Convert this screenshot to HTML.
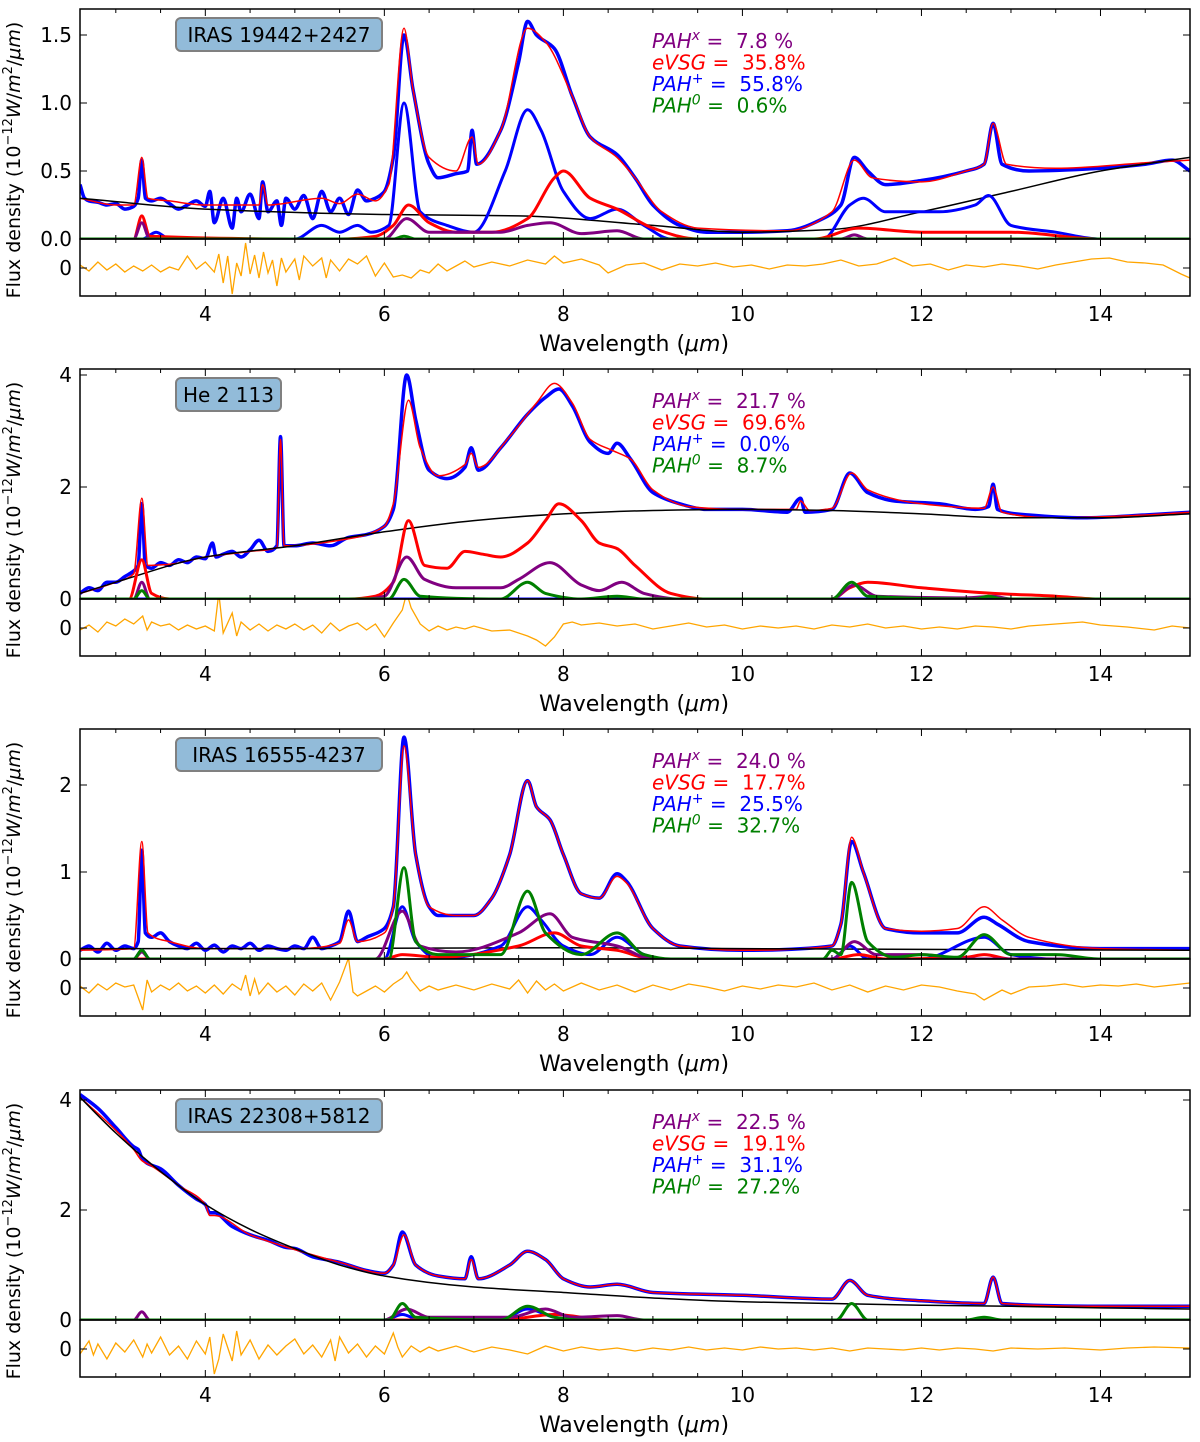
<!DOCTYPE html>
<html><head><meta charset="utf-8"><style>
body{margin:0;background:#fff;width:1200px;height:1437px;overflow:hidden}
svg{font-family:"DejaVu Sans","Liberation Sans",sans-serif}
</style></head><body>
<svg id="fig" width="1200" height="1437" viewBox="0 0 1200 1437" xmlns="http://www.w3.org/2000/svg"></svg>
<script>
// ---------- data (wavelength, value) ----------
const p1_obs=[[2.6,.40],[2.65,.3],[2.7,.28],[2.8,.27],[2.9,.25],[3.0,.26],[3.1,.22],[3.2,.24],[3.25,.3],[3.29,.58],[3.33,.3],[3.4,.28],[3.5,.3],[3.6,.26],[3.7,.22],[3.8,.25],[3.9,.28],[4.0,.24],[4.05,.35],[4.1,.12],[4.2,.3],[4.3,.08],[4.35,.3],[4.4,.2],[4.5,.33],[4.6,.15],[4.64,.42],[4.7,.2],[4.8,.28],[4.85,.1],[4.9,.3],[5.0,.22],[5.1,.32],[5.2,.15],[5.3,.35],[5.4,.2],[5.5,.3],[5.6,.18],[5.7,.36],[5.8,.28],[5.9,.3],[6.0,.35],[6.1,.6],[6.22,1.5],[6.32,1.1],[6.5,.55],[6.6,.45],[6.8,.48],[6.93,.5],[6.98,.8],[7.03,.55],[7.3,.8],[7.5,1.3],[7.6,1.6],[7.7,1.5],[7.9,1.4],[8.1,1.05],[8.3,.75],[8.6,.62],[8.8,.45],[9.0,.25],[9.3,.1],[9.6,.05],[10,.05],[10.5,.06],[10.9,.15],[11.1,.25],[11.25,.6],[11.4,.5],[11.6,.4],[12,.43],[12.5,.5],[12.7,.55],[12.8,.85],[12.9,.55],[13.2,.5],[14,.52],[14.5,.55],[14.8,.58],[15,.5]];
const p1_fit=[[2.6,.3],[3.0,.25],[3.2,.25],[3.29,.6],[3.36,.3],[3.6,.28],[4.0,.25],[4.6,.25],[4.64,.4],[4.7,.25],[5.3,.3],[5.5,.26],[5.7,.33],[5.9,.28],[6.05,.4],[6.22,1.55],[6.32,1.1],[6.5,.6],[6.8,.5],[6.98,.75],[7.05,.55],[7.3,.8],[7.6,1.55],[7.8,1.45],[8.1,1.05],[8.3,.75],[8.6,.6],[8.8,.45],[9.1,.2],[9.5,.08],[10.5,.06],[11.0,.2],[11.25,.58],[11.45,.45],[12,.42],[12.5,.5],[12.7,.55],[12.8,.85],[12.95,.55],[13.5,.52],[14.5,.56],[15,.58]];
const p1_cont=[[2.6,.3],[4,.22],[6,.18],[7.5,.17],[9,.1],[10,.05],[11,.07],[12,.2],[13,.35],[14,.5],[15,.6]];
const p1_evsg=[[2.6,0],[3.2,0],[3.29,.17],[3.38,.02],[5.5,0],[5.9,.02],[6.1,.1],[6.27,.25],[6.5,.12],[6.8,.05],[7.2,.05],[7.6,.15],[7.9,.45],[8.0,.5],[8.3,.3],[8.6,.22],[9,.08],[9.5,0],[10.8,0],[11.3,.08],[12,.05],[13,.05],[14,0],[15,0]];
const p1_pahp=[[2.6,0],[3.3,0],[3.45,.05],[3.6,0],[5.0,0],[5.3,.1],[5.5,.05],[5.7,.1],[5.85,.05],[6.05,.1],[6.22,1.0],[6.4,.2],[6.7,.1],[7.0,.05],[7.35,.5],[7.6,.95],[7.75,.8],[8.0,.35],[8.3,.15],[8.6,.22],[8.9,.1],[9.2,0],[10.9,0],[11.2,.25],[11.35,.3],[11.6,.2],[12.2,.2],[12.6,.25],[12.75,.32],[13.0,.1],[13.5,.05],[14,0],[15,0]];
const p1_pahx=[[2.6,0],[3.2,0],[3.29,.12],[3.38,0],[6.0,0],[6.25,.15],[6.5,.05],[7.3,.05],[7.6,.1],[7.85,.12],[8.2,.04],[8.6,.06],[8.9,0],[11.1,0],[11.25,.03],[11.4,0],[15,0]];
const p1_pah0=[[2.6,0],[6.1,0],[6.22,.02],[6.35,0],[15,0]];
const p1_res=[[2.6,.3],[2.7,-.3],[2.8,.6],[2.9,-.2],[3.0,.4],[3.1,-.4],[3.2,.2],[3.3,-.3],[3.4,.3],[3.5,-.4],[3.6,.1],[3.7,-.2],[3.8,1.2],[3.9,-.1],[4.0,.6],[4.1,-.4],[4.15,1.4],[4.2,-1.5],[4.25,1.2],[4.3,-2.6],[4.35,.5],[4.4,-.8],[4.45,2.5],[4.5,-.6],[4.55,1.3],[4.6,-1.0],[4.65,1.6],[4.7,-.5],[4.75,.8],[4.8,-1.8],[4.85,1.0],[4.9,-.4],[5.0,.9],[5.05,-1.2],[5.1,1.2],[5.2,.2],[5.3,1.0],[5.35,-1.0],[5.4,.8],[5.5,-.3],[5.6,.9],[5.7,.4],[5.8,1.2],[5.9,-.8],[6.0,.5],[6.1,-.9],[6.2,-.7],[6.3,-1.0],[6.4,-.2],[6.5,-.5],[6.6,.4],[6.7,-.3],[6.8,.2],[6.9,.7],[7.0,.1],[7.2,.6],[7.4,.2],[7.6,.8],[7.8,.4],[7.9,1.2],[8.0,.5],[8.2,.9],[8.4,.3],[8.5,-.5],[8.7,.3],[8.9,.5],[9.1,-.2],[9.3,.4],[9.5,.2],[9.7,.5],[9.9,.1],[10.1,.3],[10.3,-.1],[10.5,.3],[10.7,.2],[10.9,.4],[11.1,.8],[11.3,.2],[11.5,.4],[11.7,1.0],[11.9,.2],[12.1,.4],[12.3,-.2],[12.5,.3],[12.7,.1],[12.9,.4],[13.1,.2],[13.3,-.1],[13.5,.3],[13.7,.6],[13.9,.9],[14.1,1.0],[14.3,.6],[14.5,.5],[14.7,.3],[14.9,-.6],[15,-1.0]];
const p2_obs=[[2.6,.1],[2.7,.2],[2.8,.15],[2.9,.3],[3.0,.3],[3.1,.4],[3.2,.5],[3.25,.6],[3.29,1.7],[3.33,.6],[3.4,.55],[3.5,.65],[3.6,.6],[3.7,.7],[3.8,.65],[3.9,.75],[4.0,.72],[4.08,1.0],[4.12,.75],[4.2,.8],[4.3,.85],[4.4,.75],[4.5,.88],[4.6,1.05],[4.7,.85],[4.8,.95],[4.84,2.9],[4.88,.95],[5.0,.95],[5.2,1.0],[5.4,.95],[5.6,1.1],[5.8,1.15],[6.0,1.3],[6.1,1.6],[6.25,4.0],[6.35,3.2],[6.5,2.3],[6.7,2.15],[6.9,2.35],[6.97,2.7],[7.05,2.3],[7.3,2.7],[7.6,3.3],[7.8,3.6],[7.95,3.75],[8.1,3.45],[8.3,2.8],[8.5,2.6],[8.6,2.78],[8.75,2.5],[9.0,1.9],[9.3,1.7],[9.6,1.6],[10,1.6],[10.5,1.55],[10.65,1.8],[10.7,1.55],[11,1.6],[11.2,2.25],[11.4,1.9],[11.7,1.75],[12.2,1.7],[12.6,1.6],[12.75,1.65],[12.8,2.05],[12.85,1.6],[13.2,1.5],[13.8,1.45],[14.5,1.5],[15,1.55]];
const p2_fit=[[2.6,.1],[3.0,.3],[3.2,.45],[3.29,1.8],[3.36,.6],[3.6,.62],[4.0,.75],[4.5,.85],[4.8,.92],[4.84,2.85],[4.88,.95],[5.5,1.05],[6.0,1.3],[6.1,1.7],[6.27,3.55],[6.4,2.7],[6.6,2.2],[6.9,2.4],[6.97,2.6],[7.05,2.35],[7.4,2.9],[7.7,3.5],[7.9,3.85],[8.1,3.5],[8.3,2.85],[8.55,2.65],[8.75,2.5],[9.0,1.95],[9.4,1.65],[10,1.6],[10.6,1.6],[10.65,1.75],[10.75,1.58],[11,1.62],[11.22,2.25],[11.4,1.95],[12,1.7],[12.7,1.62],[12.8,2.0],[12.9,1.55],[13.5,1.45],[14.5,1.5],[15,1.55]];
const p2_cont=[[2.6,.1],[3,.3],[4,.75],[5,.95],[6,1.2],[7,1.4],[8,1.52],[9,1.58],[10,1.6],[11,1.58],[12,1.52],[13,1.45],[14,1.45],[15,1.52]];
const p2_evsg=[[2.6,0],[3.15,0],[3.29,.7],[3.4,.1],[3.6,0],[5.6,0],[5.9,.05],[6.1,.3],[6.27,1.4],[6.45,.6],[6.7,.55],[6.9,.85],[7.1,.8],[7.3,.75],[7.6,1.0],[7.8,1.4],[7.95,1.7],[8.2,1.4],[8.4,1.0],[8.6,.9],[8.8,.6],[9.2,.1],[9.6,0],[11.0,0],[11.2,.2],[11.4,.3],[12,.2],[12.8,.1],[13.5,.05],[14,0],[15,0]];
const p2_pahx=[[2.6,0],[3.2,0],[3.29,.3],[3.38,0],[5.8,0],[6.0,.05],[6.25,.75],[6.45,.35],[6.8,.2],[7.3,.2],[7.5,.35],[7.85,.65],[8.2,.25],[8.4,.15],[8.65,.3],[8.9,.1],[9.3,0],[11.0,0],[11.25,.25],[11.5,.05],[12.5,.02],[12.8,.05],[13.0,0],[15,0]];
const p2_pah0=[[2.6,0],[3.2,0],[3.29,.15],[3.38,0],[6.05,0],[6.22,.35],[6.4,.05],[7.3,0],[7.6,.3],[7.8,.1],[8.2,0],[8.6,.05],[8.9,0],[11.0,0],[11.22,.3],[11.4,.05],[12.6,0],[12.75,.05],[12.9,0],[15,0]];
const p2_pahp=[[2.6,0],[15,0]];
const p2_res=[[2.6,-.2],[2.7,.3],[2.8,-.4],[2.9,.6],[3.0,.2],[3.1,.9],[3.2,.4],[3.3,1.2],[3.35,-.2],[3.4,.6],[3.5,.2],[3.6,.4],[3.7,-.2],[3.8,.3],[3.9,-.1],[4.0,.2],[4.1,-.3],[4.15,3.5],[4.2,-.5],[4.3,1.5],[4.35,-.8],[4.4,.6],[4.5,-.2],[4.6,.4],[4.7,-.3],[4.8,.3],[4.9,-.1],[5.0,.4],[5.1,-.2],[5.2,.3],[5.3,-.5],[5.4,.5],[5.5,-.3],[5.6,.2],[5.7,.5],[5.8,-.2],[5.9,.4],[6.0,-.9],[6.1,.5],[6.2,1.8],[6.25,3.5],[6.3,2.0],[6.4,.4],[6.5,-.3],[6.6,.2],[6.7,-.2],[6.8,.1],[6.9,-.1],[7.0,.2],[7.2,-.3],[7.4,-.2],[7.6,-.8],[7.7,-1.2],[7.8,-1.8],[7.9,-.9],[8.0,.4],[8.1,.6],[8.2,.3],[8.4,.5],[8.6,.2],[8.8,.4],[9.0,-.1],[9.2,.2],[9.4,.5],[9.6,.1],[9.8,.3],[10.0,-.1],[10.2,.2],[10.4,0],[10.6,.2],[10.8,-.1],[11.0,.3],[11.2,.1],[11.4,.4],[11.6,0],[11.8,.2],[12.0,-.1],[12.2,.1],[12.4,-.1],[12.6,.2],[12.8,.1],[13.0,-.1],[13.2,.2],[13.5,.4],[13.8,.6],[14.0,.3],[14.3,.1],[14.6,-.2],[14.8,.2],[15,0]];
const p3_obs=[[2.6,.1],[2.7,.15],[2.8,.08],[2.9,.18],[3.0,.1],[3.1,.15],[3.2,.12],[3.25,.2],[3.29,1.25],[3.33,.3],[3.4,.25],[3.5,.3],[3.6,.2],[3.7,.15],[3.8,.12],[3.9,.18],[4.0,.1],[4.1,.16],[4.2,.08],[4.3,.15],[4.4,.12],[4.5,.18],[4.6,.1],[4.7,.15],[4.8,.12],[4.9,.1],[5.0,.15],[5.1,.12],[5.2,.25],[5.3,.12],[5.4,.15],[5.5,.2],[5.6,.55],[5.7,.2],[5.8,.25],[6.0,.35],[6.1,.6],[6.22,2.55],[6.35,1.2],[6.5,.6],[6.6,.5],[6.8,.5],[7.0,.5],[7.2,.7],[7.4,1.2],[7.6,2.05],[7.7,1.75],[7.85,1.6],[8.0,1.2],[8.2,.75],[8.4,.7],[8.6,.98],[8.7,.9],[9.0,.35],[9.3,.15],[10,.1],[11,.15],[11.1,.4],[11.22,1.35],[11.35,1.0],[11.6,.35],[12,.3],[12.4,.3],[12.7,.48],[12.85,.4],[13.2,.2],[14,.12],[15,.12]];
const p3_fit=[[2.6,.1],[3.2,.12],[3.29,1.35],[3.36,.3],[3.6,.2],[4.0,.12],[5.0,.12],[5.5,.18],[5.6,.45],[5.7,.2],[6.0,.3],[6.1,.6],[6.22,2.45],[6.35,1.2],[6.5,.6],[6.8,.5],[7.0,.5],[7.2,.7],[7.4,1.2],[7.6,2.05],[7.7,1.75],[7.85,1.6],[8.0,1.2],[8.2,.75],[8.4,.7],[8.6,.95],[8.7,.88],[9.0,.35],[9.3,.15],[10,.1],[11,.15],[11.1,.4],[11.22,1.4],[11.35,1.0],[11.6,.35],[12,.32],[12.4,.35],[12.7,.6],[12.9,.45],[13.2,.25],[14,.12],[15,.1]];
const p3_cont=[[2.6,.12],[5,.12],[8,.13],[10,.12],[12,.11],[15,.1]];
const p3_evsg=[[2.6,0],[6.0,0],[6.2,.05],[6.6,.02],[7.5,.15],[7.9,.3],[8.2,.15],[8.6,.1],[9.0,0],[11.0,0],[11.3,.05],[11.6,0],[12.5,.02],[12.7,.05],[13.0,0],[15,0]];
const p3_pahp=[[2.6,0],[3.2,0],[3.29,.1],[3.38,0],[6.0,0],[6.2,.6],[6.35,.2],[6.6,0],[7.3,.15],[7.6,.6],[7.75,.45],[8.0,.15],[8.3,.05],[8.6,.25],[8.9,.05],[9.1,0],[11.0,0],[11.2,.15],[11.4,0],[12.0,0],[12.7,.25],[13.0,.05],[13.5,0],[15,0]];
const p3_pahx=[[2.6,0],[3.2,0],[3.29,.08],[3.38,0],[5.9,0],[6.2,.55],[6.4,.15],[6.8,.08],[7.5,.3],[7.85,.52],[8.1,.25],[8.6,.15],[9.0,0],[11.0,0],[11.25,.2],[11.5,.05],[12.0,.05],[12.5,0],[15,0]];
const p3_pah0=[[2.6,0],[3.2,0],[3.29,.1],[3.38,0],[6.05,0],[6.22,1.05],[6.35,.2],[6.6,.05],[7.3,.05],[7.6,.78],[7.8,.3],[8.2,.05],[8.6,.3],[8.9,.05],[9.2,0],[10.9,0],[11.0,.1],[11.1,.05],[11.22,.88],[11.4,.2],[11.7,.02],[12.0,.05],[12.4,.02],[12.7,.28],[13.0,.05],[13.5,.05],[14,0],[15,0]];
const p3_res=[[2.6,.2],[2.7,-.5],[2.8,.4],[2.9,-.2],[3.0,.5],[3.1,.1],[3.2,.3],[3.3,-2.2],[3.35,.8],[3.4,-.4],[3.5,.3],[3.6,-.2],[3.7,.5],[3.8,-.3],[3.9,.2],[4.0,-.5],[4.1,.3],[4.2,-.6],[4.3,.4],[4.4,-.2],[4.45,1.3],[4.5,-.8],[4.55,.9],[4.6,-.6],[4.7,.5],[4.8,-.4],[4.9,.2],[5.0,-.7],[5.1,.4],[5.2,-.3],[5.3,.5],[5.4,-1.2],[5.5,.6],[5.6,3.0],[5.65,-.4],[5.7,-.8],[5.8,-.3],[5.9,.2],[6.0,-.4],[6.1,.4],[6.2,1.0],[6.25,1.6],[6.3,.8],[6.4,-.3],[6.5,.2],[6.6,-.2],[6.8,.3],[7.0,-.2],[7.2,.4],[7.4,-.1],[7.5,.8],[7.6,-.5],[7.7,.7],[7.8,-.2],[7.9,.4],[8.0,-.3],[8.2,.5],[8.4,-.2],[8.6,.3],[8.8,-.4],[9.0,.3],[9.2,-.2],[9.4,.4],[9.6,.1],[9.8,-.3],[10.0,.2],[10.2,-.1],[10.4,.3],[10.6,.1],[10.8,.5],[11.0,-.2],[11.2,.3],[11.4,-.4],[11.6,.2],[11.8,-.2],[12.0,.3],[12.2,.1],[12.4,-.3],[12.6,-.6],[12.7,-1.2],[12.9,-.2],[13.0,-.6],[13.2,.1],[13.4,.2],[13.6,.4],[13.8,.1],[14.0,.3],[14.2,.2],[14.4,.4],[14.6,.1],[14.8,.3],[15,.5]];
const p4_obs=[[2.6,4.1],[2.8,3.85],[3.0,3.5],[3.2,3.15],[3.25,3.1],[3.29,2.95],[3.35,2.85],[3.5,2.75],[3.7,2.45],[3.9,2.2],[4.0,2.1],[4.05,1.95],[4.1,1.95],[4.3,1.7],[4.5,1.55],[4.7,1.45],[4.9,1.32],[5.0,1.3],[5.2,1.15],[5.5,1.05],[5.8,.9],[6.0,.85],[6.1,1.0],[6.2,1.6],[6.35,1.0],[6.6,.8],[6.9,.75],[6.97,1.15],[7.05,.75],[7.4,1.0],[7.6,1.25],[7.8,1.1],[8.0,.75],[8.3,.6],[8.6,.65],[9,.5],[10,.45],[11,.38],[11.2,.72],[11.4,.45],[12,.35],[12.7,.3],[12.8,.78],[12.9,.3],[14,.25],[15,.25]];
const p4_fit=[[2.6,4.05],[3.0,3.45],[3.2,3.1],[3.29,2.9],[3.4,2.8],[3.7,2.45],[4.0,2.1],[4.05,1.9],[4.1,1.9],[4.5,1.55],[5.0,1.28],[5.5,1.05],[6.0,.85],[6.1,1.0],[6.22,1.55],[6.35,1.0],[6.6,.8],[6.9,.75],[6.97,1.1],[7.05,.75],[7.4,1.0],[7.6,1.25],[7.8,1.1],[8.0,.75],[8.3,.6],[8.6,.65],[9,.5],[10,.45],[11,.38],[11.2,.72],[11.4,.45],[12,.35],[12.7,.3],[12.8,.78],[12.9,.3],[14,.25],[15,.25]];
const p4_cont=[[2.6,4.05],[3.0,3.4],[3.5,2.7],[4.0,2.1],[4.5,1.65],[5.0,1.3],[5.5,1.0],[6.0,.8],[7,.6],[8,.5],[9,.4],[10,.33],[11,.3],[12,.27],[13,.25],[14,.22],[15,.2]];
const p4_evsg=[[2.6,0],[7.3,0],[7.9,.1],[8.5,0],[15,0]];
const p4_pahp=[[2.6,0],[6.0,0],[6.2,.1],[6.4,0],[7.3,0],[7.6,.2],[7.9,.05],[8.2,0],[15,0]];
const p4_pahx=[[2.6,0],[3.2,0],[3.29,.15],[3.38,0],[6.0,0],[6.25,.2],[6.5,.05],[7.4,.05],[7.8,.2],[8.1,.05],[8.6,.08],[8.9,0],[15,0]];
const p4_pah0=[[2.6,0],[6.05,0],[6.2,.3],[6.35,.05],[7.3,0],[7.6,.25],[7.9,.05],[8.2,0],[11.05,0],[11.22,.3],[11.4,0],[12.5,0],[12.7,.05],[12.9,0],[15,0]];
const p4_res=[[2.6,-.5],[2.7,.8],[2.75,-.6],[2.8,.5],[2.9,-1.0],[3.0,.6],[3.1,-.3],[3.2,.9],[3.3,-.8],[3.35,.5],[3.4,-.4],[3.5,1.2],[3.6,-.6],[3.7,.3],[3.8,-1.0],[3.9,.8],[4.0,-.5],[4.05,1.2],[4.1,-2.5],[4.15,-1.0],[4.2,1.5],[4.3,-1.2],[4.35,1.8],[4.4,-.6],[4.5,.9],[4.6,-1.0],[4.7,.4],[4.8,-.6],[4.9,.3],[5.0,1.0],[5.1,-.5],[5.2,.4],[5.3,-.8],[5.4,.9],[5.45,-1.2],[5.5,1.2],[5.6,-.4],[5.7,.5],[5.8,-.8],[5.9,.3],[6.0,-.5],[6.1,1.6],[6.15,.2],[6.2,-.8],[6.3,.3],[6.4,-.3],[6.5,.2],[6.6,-.2],[6.8,.3],[7.0,-.3],[7.2,.2],[7.4,-.1],[7.6,-.5],[7.8,.3],[8.0,-.2],[8.2,.2],[8.4,-.1],[8.6,.1],[8.8,-.2],[9.0,.1],[9.2,-.1],[9.4,.2],[9.6,-.1],[9.8,.1],[10.0,-.1],[10.2,.2],[10.4,0],[10.6,.1],[10.8,-.1],[11.0,.1],[11.2,-.2],[11.4,.1],[11.6,0],[11.8,-.1],[12.0,.1],[12.2,-.1],[12.4,.1],[12.6,0],[12.8,-.2],[13.0,.1],[13.3,0],[13.6,.1],[14.0,-.1],[14.3,.1],[14.6,.2],[15,.1]];
const xTickLabels=[4,6,8,10,12,14];
const annNames=['PAH','eVSG','PAH','PAH'];
const panelLabels=['IRAS 19442+2427','He 2 113','IRAS 16555-4237','IRAS 22308+5812'];
const p1_pct=['7.8 %','35.8%','55.8%','0.6%'];
const p2_pct=['21.7 %','69.6%','0.0%','8.7%'];
const p3_pct=['24.0 %','17.7%','25.5%','32.7%'];
const p4_pct=['22.5 %','19.1%','31.1%','27.2%'];
const p1_yt=[0,0.5,1.0,1.5], p2_yt=[0,2,4], p3_yt=[0,1,2], p4_yt=[0,2,4];

// ---------- drawing ----------
const NS='http://www.w3.org/2000/svg';
const svg=document.getElementById('fig');
const X0=80,X1=1190,W0=2.6,W1=15;
function xs(w){return X0+(w-W0)*(X1-X0)/(W1-W0);}
function mk(tag,attrs,parent){const e=document.createElementNS(NS,tag);for(const k in attrs)e.setAttribute(k,attrs[k]);(parent||svg).appendChild(e);return e;}
// monotone cubic (Fritsch-Carlson) path in screen coords
function monoPath(p){
  const n=p.length; const d=[],m=[];
  for(let i=0;i<n-1;i++){d.push((p[i+1][1]-p[i][1])/(p[i+1][0]-p[i][0]));}
  m[0]=d[0]; m[n-1]=d[n-2];
  for(let i=1;i<n-1;i++){ if(d[i-1]*d[i]<=0) m[i]=0; else { const h0=p[i][0]-p[i-1][0],h1=p[i+1][0]-p[i][0]; const w1=2*h1+h0,w2=h1+2*h0; m[i]=(w1+w2)/(w1/d[i-1]+w2/d[i]); } }
  let s='M'+p[0][0].toFixed(1)+','+p[0][1].toFixed(1);
  for(let i=0;i<n-1;i++){const h=(p[i+1][0]-p[i][0])/3;
    s+=' C'+(p[i][0]+h).toFixed(1)+','+(p[i][1]+m[i]*h).toFixed(1)+' '+(p[i+1][0]-h).toFixed(1)+','+(p[i+1][1]-m[i+1]*h).toFixed(1)+' '+p[i+1][0].toFixed(1)+','+p[i+1][1].toFixed(1);}
  return s;
}
const panels=[
 {oy:0,top:9,zero:239,k:136,yt:p1_yt,fmt:v=>v.toFixed(1),obs:p1_obs,fit:p1_fit,cont:p1_cont,evsg:p1_evsg,pahp:p1_pahp,pahx:p1_pahx,pah0:p1_pah0,res:p1_res,pct:p1_pct},
 {oy:360,top:369,zero:599,k:56,yt:p2_yt,fmt:v=>String(v),obs:p2_obs,fit:p2_fit,cont:p2_cont,evsg:p2_evsg,pahp:p2_pahp,pahx:p2_pahx,pah0:p2_pah0,res:p2_res,pct:p2_pct},
 {oy:720,top:729,zero:959,k:87,yt:p3_yt,fmt:v=>String(v),obs:p3_obs,fit:p3_fit,cont:p3_cont,evsg:p3_evsg,pahp:p3_pahp,pahx:p3_pahx,pah0:p3_pah0,res:p3_res,pct:p3_pct},
 {oy:1081,top:1090,zero:1320,k:55,yt:p4_yt,fmt:v=>String(v),obs:p4_obs,fit:p4_fit,cont:p4_cont,evsg:p4_evsg,pahp:p4_pahp,pahx:p4_pahx,pah0:p4_pah0,res:p4_res,pct:p4_pct}
];
panels.forEach((P,pi)=>{
  const g=mk('g',{});
  
  
  const rb=P.zero+57, r0=P.zero+29;
  const cid='clip'+pi, rid='rclip'+pi;
  const defs=mk('defs',{},g);
  const c=mk('clipPath',{id:cid},defs); mk('rect',{x:X0,y:P.top,width:X1-X0,height:P.zero-P.top},c);
  const c2=mk('clipPath',{id:rid},defs); mk('rect',{x:X0,y:P.zero,width:X1-X0,height:57},c2);
  const ys=v=>P.zero-v*P.k;
  const plot=mk('g',{'clip-path':'url(#'+cid+')'},g);
  function line(data,color,w,name){
    const p=mk('path',{d:monoPath(data.map(d=>[xs(d[0]),ys(d[1])])),fill:'none',stroke:color,'stroke-width':w,'stroke-linejoin':'round'},plot);
    
    
  }
  line(P.obs,'#0000ff',3.5,'observed-spectrum');
  line(P.fit,'#ff0000',1.5,'model-fit');
  line(P.cont,'#000000',1.5,'continuum');
  line(P.pahp,'#0000ff',3,'pah-cation-component');
  line(P.evsg,'#ff0000',3,'evsg-component');
  line(P.pahx,'#800080',3,'pahx-component');
  line(P.pah0,'#008000',3,'pah-neutral-component');
  // residual
  const rp=mk('g',{'clip-path':'url(#'+rid+')'},g);
  const pts=P.res.map(d=>[xs(d[0]),r0-d[1]*10]);
  const rl=mk('polyline',{points:pts.map(p=>p[0].toFixed(1)+','+p[1].toFixed(1)).join(' '),fill:'none',stroke:'#ffa500','stroke-width':1.3},rp);
  
  
  // frames
  mk('rect',{x:X0,y:P.top,width:X1-X0,height:P.zero-P.top,fill:'none',stroke:'#000','stroke-width':1.5},g);
  mk('rect',{x:X0,y:P.zero,width:X1-X0,height:57,fill:'none',stroke:'#000','stroke-width':1.5},g);
  // x ticks
  for(let w=3;w<=15;w+=0.5){
    const x=xs(w), maj=(w%2===0), L=maj?7:4;
    [P.top,P.zero].forEach(yy=>mk('line',{x1:x,x2:x,y1:yy,y2:yy+L,stroke:'#000','stroke-width':1},g));
    [P.zero,rb].forEach(yy=>mk('line',{x1:x,x2:x,y1:yy,y2:yy-L,stroke:'#000','stroke-width':1},g));
  }
  xTickLabels.forEach(w=>{
    const t=mk('text',{x:xs(w),y:rb+25,'text-anchor':'middle','font-size':20},g); t.textContent=w;
    
    
  });
  const xl=mk('text',{x:634,y:rb+55,'text-anchor':'middle','font-size':22},g);
  xl.innerHTML='Wavelength (<tspan font-style="italic">μm</tspan>)';
  
  
  // y ticks
  P.yt.forEach(v=>{
    const y=ys(v);
    mk('line',{x1:X0,x2:X0+7,y1:y,y2:y,stroke:'#000'},g);
    mk('line',{x1:X1,x2:X1-7,y1:y,y2:y,stroke:'#000'},g);
    const t=mk('text',{x:X0-8,y:y+7,'text-anchor':'end','font-size':20},g); t.textContent=P.fmt(v);
    
    
  });
  mk('line',{x1:X0,x2:X0+7,y1:r0,y2:r0,stroke:'#000'},g);
  mk('line',{x1:X1,x2:X1-7,y1:r0,y2:r0,stroke:'#000'},g);
  const rt=mk('text',{x:X0-8,y:r0+7,'text-anchor':'end','font-size':20},g); rt.textContent='0';
  
  
  // y title
  const cy=P.oy+160;
  const yl=mk('text',{x:0,y:0,'text-anchor':'middle','font-size':19,transform:'translate(20,'+cy+') rotate(-90)'},g);
  yl.innerHTML='Flux density (10<tspan dy="-8" font-size="13">−12</tspan><tspan dy="8" font-style="italic">W</tspan>/<tspan font-style="italic">m</tspan><tspan dy="-8" font-size="13">2</tspan><tspan dy="8">/</tspan><tspan font-style="italic">μm</tspan>)';
  
  
  // object label box
  const lbw=pi===1?105:206;
  const bx=mk('rect',{x:176,y:P.oy+18,width:lbw,height:33,rx:5,fill:'#92bbd9',stroke:'#808080','stroke-width':2},g);
  
  
  const lt=mk('text',{x:176+lbw/2,y:P.oy+42,'text-anchor':'middle','font-size':20},g); lt.textContent=panelLabels[pi];
  
  
  // annotations
  const cols=['#800080','#ff0000','#0000ff','#008000'];
  const sups=['x','','+','0'];
  cols.forEach((col,j)=>{
    const t=mk('text',{x:652,y:P.oy+48+j*21.5,'font-size':20,fill:col},g);
    let s='<tspan font-style="italic">'+annNames[j]+'</tspan>';
    if(sups[j]) s+='<tspan dy="-8" font-size="14" font-style="italic">'+sups[j]+'</tspan><tspan dy="8" xml:space="preserve"> =  </tspan>';
    else s+='<tspan xml:space="preserve"> =  </tspan>';
    s+='<tspan>'+P.pct[j]+'</tspan>';
    t.innerHTML=s;
    
    
  });
});
</script>
</body></html>
